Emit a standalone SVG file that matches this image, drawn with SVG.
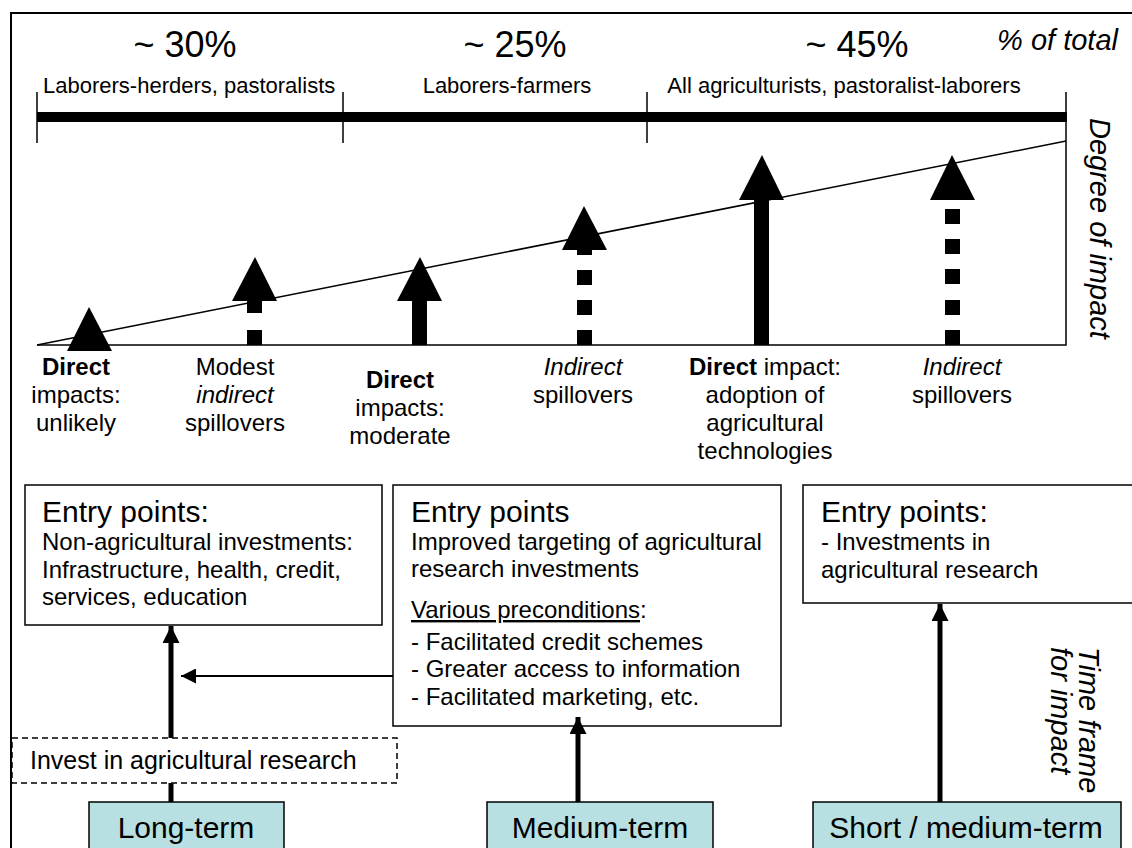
<svg xmlns="http://www.w3.org/2000/svg" width="1132" height="848" viewBox="0 0 1132 848">
<style>
text{font-family:"Liberation Sans",Arial,sans-serif;fill:#000}
.big{font-size:36px}
.grp{font-size:22px}
.lab{font-size:24px;text-anchor:middle}
.it{font-style:italic}
.b{font-weight:bold}
.box{fill:#fff;stroke:#000;stroke-width:1.5}
.term{fill:#b8dfe1;stroke:#000;stroke-width:1.5}
.hd{font-size:30px}
.bt{font-size:24px}
.tt{font-size:30px;text-anchor:middle}
.thin{stroke:#000;stroke-width:1.5;fill:none}
.fill{fill:#000}
</style>
<defs>
<marker id="ah" viewBox="0 0 10 10" refX="10" refY="5" markerWidth="3.4" markerHeight="3.4" orient="auto" markerUnits="strokeWidth"><path d="M0,0 L10,5 L0,10 z" fill="#000"/></marker>
<marker id="ahs" viewBox="0 0 10 10" refX="10" refY="5" markerWidth="8" markerHeight="7.5" orient="auto" markerUnits="strokeWidth"><path d="M0,0 L10,5 L0,10 z" fill="#000"/></marker>
</defs>
<rect x="11" y="13" width="1140" height="860" fill="none" stroke="#000" stroke-width="2"/>

<g id="header">
<text class="big" x="185" y="57" text-anchor="middle">~ 30%</text>
<text class="big" x="515" y="57" text-anchor="middle">~ 25%</text>
<text class="big" x="857" y="57" text-anchor="middle">~ 45%</text>
<text class="it" x="1118" y="50" font-size="29" text-anchor="end">% of total</text>
<text class="grp" x="43" y="93">Laborers-herders, pastoralists</text>
<text class="grp" x="507" y="93" text-anchor="middle">Laborers-farmers</text>
<text class="grp" x="844" y="93" text-anchor="middle">All agriculturists, pastoralist-laborers</text>
<rect x="37" y="112" width="1030" height="10" class="fill"/>
<line x1="37" y1="92" x2="37" y2="143" class="thin"/>
<line x1="343" y1="92" x2="343" y2="143" class="thin"/>
<line x1="647" y1="92" x2="647" y2="143" class="thin"/>
</g>

<g id="impact-chart">
<polyline points="37,345 1066,345 1066,92" class="thin" stroke-width="2"/>
<line x1="37" y1="345" x2="1066" y2="141" class="thin"/>
<text class="it" transform="translate(1090,118) rotate(90)" font-size="29">Degree of impact</text>
</g>

<g id="arrow1"><polygon points="89,307 112,351 67,351" class="fill"/></g>
<g id="arrow2"><polygon points="255,257 277,301 232,301" class="fill"/><rect x="247" y="300" width="15" height="13" class="fill"/><rect x="247" y="330" width="15" height="15" class="fill"/></g>
<g id="arrow3"><polygon points="420,257 442,301 397,301" class="fill"/><rect x="412" y="300" width="15" height="45" class="fill"/></g>
<g id="arrow4"><polygon points="584,206 607,250 562,250" class="fill"/><rect x="577" y="249" width="15" height="6" class="fill"/><rect x="577" y="270" width="15" height="15" class="fill"/><rect x="577" y="300" width="15" height="15" class="fill"/><rect x="577" y="330" width="15" height="15" class="fill"/></g>
<g id="arrow5"><polygon points="762,155 784,200 739,200" class="fill"/><rect x="754" y="199" width="15" height="146" class="fill"/></g>
<g id="arrow6"><polygon points="952,155 975,200 930,200" class="fill"/><rect x="945" y="209" width="15" height="15" class="fill"/><rect x="945" y="239" width="15" height="15" class="fill"/><rect x="945" y="269" width="15" height="15" class="fill"/><rect x="945" y="300" width="15" height="15" class="fill"/><rect x="945" y="330" width="15" height="15" class="fill"/></g>

<g id="labels">
<text class="lab" x="76" y="375"><tspan class="b">Direct</tspan><tspan x="76" dy="28">impacts:</tspan><tspan x="76" dy="28">unlikely</tspan></text>
<text class="lab" x="235" y="375">Modest<tspan x="235" dy="28" class="it">indirect</tspan><tspan x="235" dy="28">spillovers</tspan></text>
<text class="lab" x="400" y="388"><tspan class="b">Direct</tspan><tspan x="400" dy="28">impacts:</tspan><tspan x="400" dy="28">moderate</tspan></text>
<text class="lab" x="583" y="375"><tspan class="it">Indirect</tspan><tspan x="583" dy="28">spillovers</tspan></text>
<text class="lab" x="765" y="375"><tspan class="b">Direct</tspan> impact:<tspan x="765" dy="28">adoption of</tspan><tspan x="765" dy="28">agricultural</tspan><tspan x="765" dy="28">technologies</tspan></text>
<text class="lab" x="962" y="375"><tspan class="it">Indirect</tspan><tspan x="962" dy="28">spillovers</tspan></text>
</g>

<g id="entry-long">
<rect x="25" y="485" width="357" height="140" class="box"/>
<text class="hd" x="42" y="522">Entry points:</text>
<text class="bt" x="42" y="550">Non-agricultural investments:</text>
<text class="bt" x="42" y="578">Infrastructure, health, credit,</text>
<text class="bt" x="42" y="605">services, education</text>
</g>

<g id="entry-medium">
<rect x="393" y="485" width="388" height="241" class="box"/>
<text class="hd" x="411" y="522">Entry points</text>
<text class="bt" x="411" y="550">Improved targeting of agricultural</text>
<text class="bt" x="411" y="577">research investments</text>
<text class="bt" x="411" y="618"><tspan text-decoration="underline">Various preconditions</tspan>:</text>
<text class="bt" x="411" y="650">- Facilitated credit schemes</text>
<text class="bt" x="411" y="677">- Greater access to information</text>
<text class="bt" x="411" y="705">- Facilitated marketing, etc.</text>
</g>

<g id="entry-short">
<rect x="803" y="485" width="340" height="118" class="box"/>
<text class="hd" x="821" y="522">Entry points:</text>
<text class="bt" x="821" y="550">- Investments in</text>
<text class="bt" x="821" y="578">agricultural research</text>
</g>

<g id="invest-research">
<rect x="12" y="738" width="385" height="45" fill="#fff" stroke="#000" stroke-width="1.5" stroke-dasharray="6,4"/>
<text x="30" y="769" font-size="25">Invest in agricultural research</text>
</g>

<g id="term-long">
<rect x="89" y="802" width="195" height="60" class="term"/>
<text class="tt" x="186" y="838">Long-term</text>
</g>
<g id="term-medium">
<rect x="487" y="802" width="226" height="60" class="term"/>
<text class="tt" x="600" y="838">Medium-term</text>
</g>
<g id="term-short">
<rect x="813" y="802" width="308" height="60" class="term"/>
<text class="tt" x="966" y="838">Short / medium-term</text>
</g>

<text class="it" transform="translate(1079,647) rotate(90)" font-size="29">Time frame</text>
<text class="it" transform="translate(1051,647) rotate(90)" font-size="29">for impact</text>

<g id="connectors">
<line x1="171" y1="802" x2="171" y2="783" stroke="#000" stroke-width="5"/>
<line x1="171" y1="738" x2="171" y2="626" stroke="#000" stroke-width="5" marker-end="url(#ah)"/>
<line x1="393" y1="676" x2="181" y2="676" stroke="#000" stroke-width="2" marker-end="url(#ahs)"/>
<line x1="578" y1="802" x2="578" y2="717" stroke="#000" stroke-width="5" marker-end="url(#ah)"/>
<line x1="940" y1="802" x2="940" y2="604" stroke="#000" stroke-width="5" marker-end="url(#ah)"/>
</g>
</svg>
